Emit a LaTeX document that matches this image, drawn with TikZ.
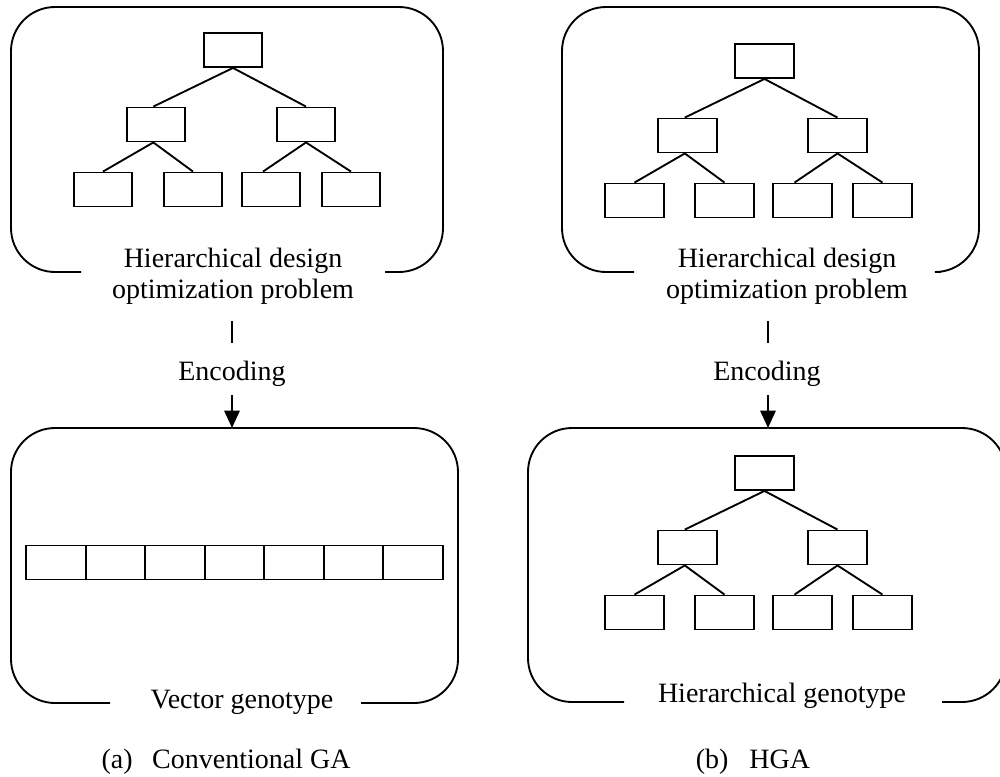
\documentclass[tikz,border=0pt]{standalone}
\usepackage{fontspec}
\setmainfont{Liberation Serif}
\usetikzlibrary{arrows.meta}
\begin{document}
\begin{tikzpicture}[x=0.75pt,y=-0.75pt,
  every node/.style={font=\fontsize{21}{23}\selectfont},
  cell/.style={draw, line width=1.4pt, minimum width=44pt, minimum height=25.5pt, inner sep=0pt},
  vcell/.style={draw, line width=1.4pt, minimum width=44.68pt, minimum height=25.5pt, inner sep=0pt},
  link/.style={line width=1.4pt},
  frame/.style={line width=1.4pt, rounded corners=33pt},
  encarrow/.style={line width=1.4pt, -{Triangle[width=11.5pt,length=13pt]}},
  lbl/.style={anchor=base, inner sep=0pt},
  htree/.pic={
    \node[cell] (-r)  at (0,0) {};
    \node[cell] (-m1) at (-77,74.5) {};
    \node[cell] (-m2) at (73,74.5) {};
    \node[cell] (-b1) at (-130,139.5) {};
    \node[cell] (-b2) at (-40,139.5) {};
    \node[cell] (-b3) at (38,139.5) {};
    \node[cell] (-b4) at (118,139.5) {};
    \draw[link] (-r.south) -- ([xshift=-2pt]-m1.north);
    \draw[link] (-r.south) -- (-m2.north);
    \draw[link] ([xshift=-2pt]-m1.south) -- (-b1.north);
    \draw[link] ([xshift=-2pt]-m1.south) -- (-b2.north);
    \draw[link] (-m2.south) -- ([xshift=-6pt]-b3.north);
    \draw[link] (-m2.south) -- (-b4.north);
  }
]
\clip (0,0) rectangle (1000,776);

% ---------- (a) conventional GA ----------
\draw[frame] (81,272) -- (11,272) -- (11,7) -- (443,7) -- (443,272) -- (385,272);
\pic (ta) at (233,50) {htree};
\node[lbl] (probA1) at (233,267) {Hierarchical design};
\node[lbl] (probA2) at (233,298) {optimization problem};

\coordinate (encAin)  at (232,321);
\coordinate (encAmid) at (232,343);
\draw[link] (encAin) -- (encAmid);
\node[lbl] (encA) at (232,380) {Encoding};
\coordinate (encAout) at (232,395);
\coordinate (vecTop)  at (232,428);
\draw[encarrow] (encAout) -- (vecTop);

\draw[frame] (110,703) -- (11,703) -- (11,428) -- (458,428) -- (458,703) -- (361,703);
\foreach \i in {1,...,7} {
  \node[vcell] (v\i) at ({26+59.57*(\i-0.5)},562.5) {};
}
\node[lbl] (vecLbl) at (242,708) {Vector genotype};
\node[lbl] (capA) at (226,768) {(a)\hspace{0.7em}Conventional GA};

% ---------- (b) HGA ----------
\draw[frame] (634,272) -- (562,272) -- (562,7) -- (979,7) -- (979,272) -- (941,272);
\pic (tb) at (764.5,61) {htree};
\node[lbl] (probB1) at (787,267) {Hierarchical design};
\node[lbl] (probB2) at (787,298) {optimization problem};

\coordinate (encBin)  at (768,321);
\coordinate (encBmid) at (768,343);
\draw[link] (encBin) -- (encBmid);
\node[lbl] (encB) at (767,380) {Encoding};
\coordinate (encBout) at (768,395);
\coordinate (hierTop) at (768,428);
\draw[encarrow] (encBout) -- (hierTop);

\draw[frame] (624,702) -- (528,702) -- (528,428) -- (1006,428) -- (1006,702) -- (942,702);
\pic (tc) at (764.5,473) {htree};
\node[lbl] (hierLbl) at (782,702) {Hierarchical genotype};
\node[lbl] (capB) at (753,768) {(b)\hspace{0.75em}HGA};
\end{tikzpicture}
\end{document}
